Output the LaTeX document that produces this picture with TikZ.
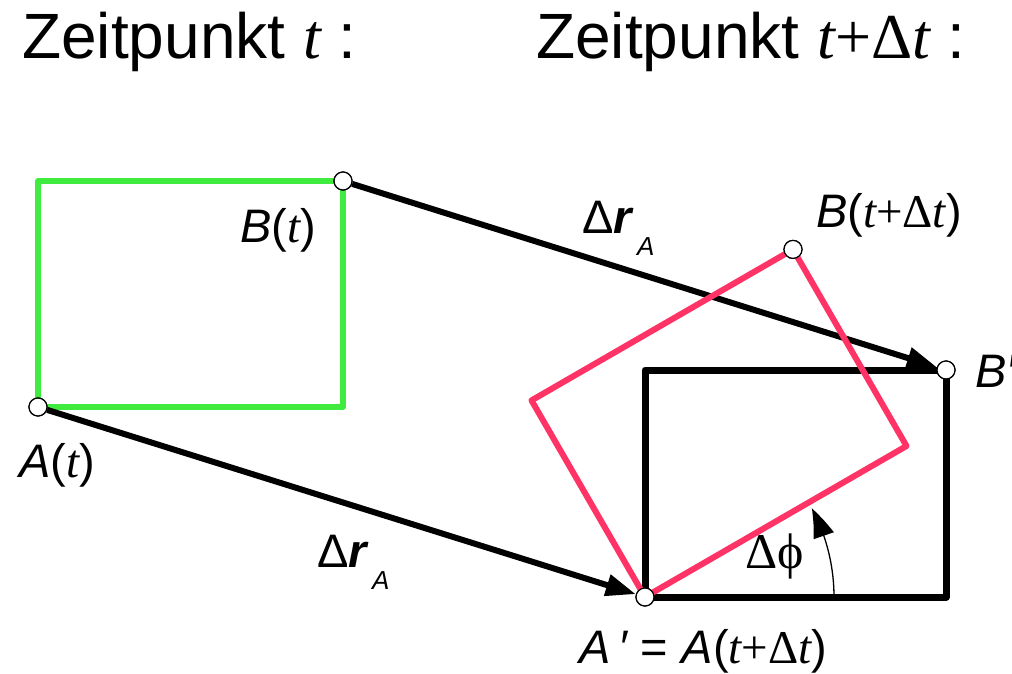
\documentclass[tikz,border=0pt]{standalone}
\usepackage{fontspec}
\setmainfont{Liberation Sans}
\newfontfamily\tms{Liberation Serif}
\usetikzlibrary{arrows.meta,bending}
\definecolor{grn}{RGB}{62,235,62}
\definecolor{pnk}{RGB}{255,51,102}
\newcommand\tvar{{\tms\itshape t}}
\newcommand\subA{\kern3pt\raisebox{-22pt}{\fontsize{26}{26}\selectfont\itshape A}}
\begin{document}
\begin{tikzpicture}[x=1pt,y=-1pt,
  pt/.style={circle,draw,fill=white,inner sep=0pt,minimum size=18pt,line width=1.2pt},
  lbl/.style={anchor=base west,inner sep=0pt,font=\fontsize{47}{52}\selectfont},
  ttl/.style={anchor=base west,inner sep=0pt,font=\fontsize{64}{70}\selectfont},
  vec/.style={line width=6pt,-{Triangle[length=30pt,width=21pt]}},
  thickline/.style={line width=6pt,line join=round}]
\useasboundingbox (0,0) rectangle (1012,673);
% titles
\node[ttl] (t1) at (22,58) {Zeitpunkt \tvar\ :};
\node[ttl] (t2) at (536,58) {Zeitpunkt \tvar{\tms +Δ}\tvar\ :};
% green rectangle
\draw[thickline,grn] (38,181) rectangle (343,407);
% black rectangle
\draw[thickline,line width=7pt,black] (645,370) rectangle (946,597);
% points
\node[pt] (At) at (38,407) {};
\node[pt] (Bt) at (343,181) {};
\node[pt] (Ap) at (645,597) {};
\node[pt] (Bp) at (946,370) {};
\coordinate (P2) at (906.5,446);
\coordinate (P4) at (531.5,400.4);
\node[pt] (Bn) at (793,249.4) {};
% displacement arrows
\draw[vec] (Bt) -- (Bp);
\draw[vec] (At) -- (Ap);
% pink rotated rectangle
\draw[thickline,pnk] (Ap.center) -- (P2) -- (Bn.center) -- (P4) -- cycle;
% angle arc
\coordinate (arcS) at (834,597);
\draw[line width=1.3pt,-{Triangle[bend,length=30pt,width=21pt]}] (arcS) arc[start angle=0,end angle=-28,radius=189];
% redraw points on top
\node[pt] at (At) {};
\node[pt] at (Bt) {};
\node[pt] at (Ap) {};
\node[pt] at (Bp) {};
\node[pt] at (Bn) {};
% labels
\node[lbl] (lBt) at (240,242) {{\itshape B}(\tvar)};
\node[lbl] (lBn) at (816,227) {{\itshape B}(\tvar{\tms +Δ}\tvar)};
\node[lbl] (lBp) at (975,387) {{\itshape B′}};
\node[lbl] (lAp) at (579,663) {{\itshape A\kern8pt′}\hspace{13pt}=\hspace{14pt}{\itshape A}(\tvar{\tms +Δ}\tvar)};
\node[lbl] (lAt) at (19,477) {{\itshape A}(\tvar)};
\node[lbl] (dr1) at (582,233) {Δ\textbf{\textit{r}}\subA};
\node[lbl] (dr2) at (317,567) {Δ\textbf{\textit{r}}\subA};
\node[lbl] (phi) at (745,568) {{\tms\fontsize{50}{52}\selectfont Δϕ}};
\end{tikzpicture}
\end{document}
